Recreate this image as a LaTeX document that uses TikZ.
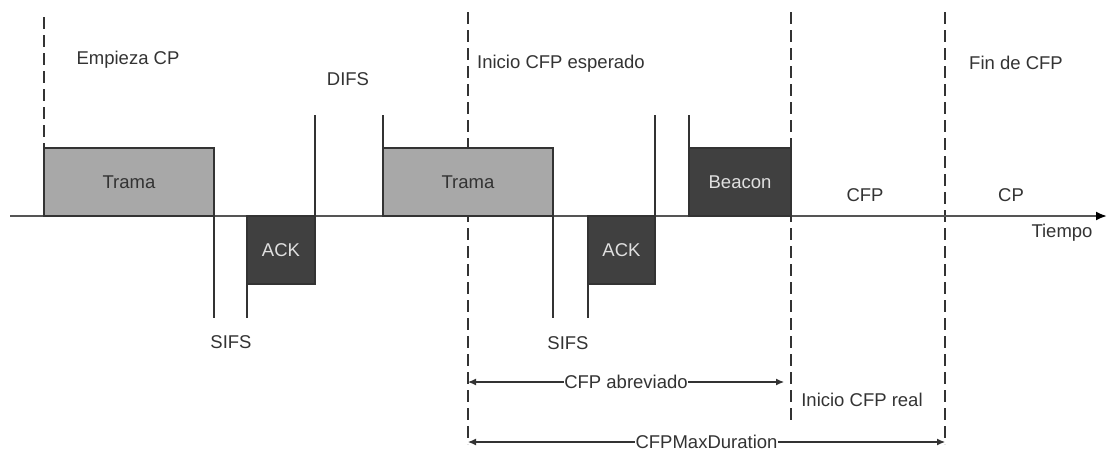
\documentclass[tikz,border=0pt]{standalone}
\usepackage{fontspec}
\setmainfont{Liberation Sans}
\usetikzlibrary{arrows.meta}
\definecolor{txt}{HTML}{333333}
\definecolor{edge}{HTML}{333333}
\definecolor{lightbox}{HTML}{A8A8A8}
\definecolor{darkbox}{HTML}{404040}
\definecolor{axisgray}{HTML}{555555}
\begin{document}
\begin{tikzpicture}[x=1pt,y=-1pt,
  every node/.style={font=\fontsize{18.5}{22}\selectfont, text=txt},
  box/.style={draw=edge, line width=1.3pt, inner sep=0pt, outer sep=0pt, anchor=north west, minimum height=68pt},
  light/.style={box, fill=lightbox},
  dark/.style={box, fill=darkbox, text=white!88!black},
  tick/.style={draw=edge, line width=1.3pt},
  guide/.style={draw=edge, line width=1.3pt, dash pattern=on 12pt off 6pt},
  axisline/.style={draw=axisgray, line width=2pt, -{Latex[length=11pt,width=9pt,black]}},
  dim/.style={draw=edge, line width=1.1pt, {Latex[length=8pt,width=7pt]}-{Latex[length=8pt,width=7pt]}},
  lbl/.style={fill=white, inner sep=0.5pt, text depth=0pt}]
\useasboundingbox (0,0) rectangle (1107,451);

% guide coordinates
\coordinate (g0t) at (44,17);
\coordinate (g1t) at (468,12);
\coordinate (g1b) at (468,444);
\coordinate (g2t) at (791,12);
\coordinate (g2b) at (791,420);
\coordinate (g3t) at (945,12);
\coordinate (g3b) at (945,444);

% axis
\coordinate (ax0) at (10,216);
\coordinate (ax1) at (1107,216);

% dashed guides
\draw[guide] (g1t) -- (g1b);
\draw[guide] (g2t) -- (g2b);
\draw[guide] (g3t) -- (g3b);

\draw[axisline] (ax0) -- (ax1);

% boxes
\node[light, minimum width=170pt] (t1) at (44,148) {Trama};
\node[dark, minimum width=68pt] (a1) at (247,216) {ACK};
\node[light, minimum width=170pt] (t2) at (383,148) {Trama};
\node[dark, minimum width=67pt] (a2) at (588,216) {ACK};
\node[dark, minimum width=102pt] (bc) at (689,148) {Beacon};

\draw[guide] (g0t) -- (t1.north west);

% tick coordinates
\coordinate (s1a) at (214,318);
\coordinate (s1b) at (247,318);
\coordinate (d1a) at (315,115);
\coordinate (d1b) at (383,115);
\coordinate (s2a) at (553,318);
\coordinate (s2b) at (588,318);
\coordinate (d2a) at (655,115);
\coordinate (d2b) at (689,115);

\draw[tick] (t1.south east) -- (s1a);
\draw[tick] (a1.south west) -- (s1b);
\draw[tick] (a1.north east) -- (d1a);
\draw[tick] (t2.north west) -- (d1b);
\draw[tick] (t2.south east) -- (s2a);
\draw[tick] (a2.south west) -- (s2b);
\draw[tick] (a2.north east) -- (d2a);
\draw[tick] (bc.north west) -- (d2b);

% labels
\node (empieza) at (128,60) {Empieza CP};
\node (difs) at (348,79) {DIFS};
\node (sifs1) at (231,342) {SIFS};
\node (sifs2) at (568,343) {SIFS};
\node (inicioesp) at (561,64) {Inicio CFP esperado};
\node (fin) at (1016,63) {Fin de CFP};
\node (cfp) at (865,195) {CFP};
\node (cp) at (1011,195) {CP};
\node (tiempo) at (1062,233) {Tiempo};
\node (iniciore) at (862,400) {Inicio CFP real};

% dimension arrows
\coordinate (ab0) at (468,382);
\coordinate (ab1) at (784,382);
\coordinate (mx0) at (468,442);
\coordinate (mx1) at (945,442);
\draw[dim] (ab0) -- node[lbl] (abl) {CFP abreviado} (ab1);
\draw[dim] (mx0) -- node[lbl] (mxl) {CFPMaxDuration} (mx1);
\end{tikzpicture}
\end{document}
